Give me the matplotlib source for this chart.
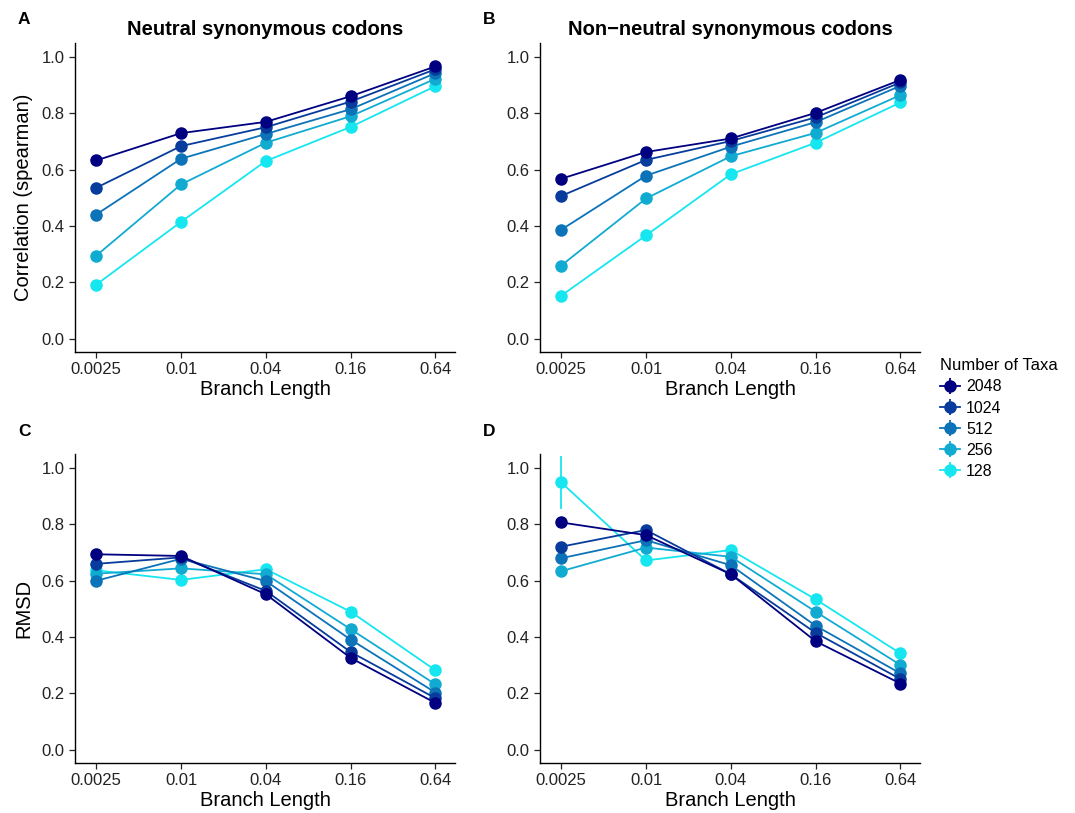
import numpy as np
import matplotlib
matplotlib.use('Agg')
import matplotlib.pyplot as plt

plt.rcParams['font.family'] = ['Liberation Sans', 'DejaVu Sans']

branch = [0.0025, 0.01, 0.04, 0.16, 0.64]
branch_labels = ['0.0025', '0.01', '0.04', '0.16', '0.64']
taxa = ['2048', '1024', '512', '256', '128']
colors = ['#000080', '#083c9c', '#0c73b8', '#11abd2', '#16e6ef']

# panel A: correlation, neutral
corr_neutral = [
    [0.633, 0.730, 0.770, 0.861, 0.967],
    [0.536, 0.684, 0.751, 0.842, 0.957],
    [0.441, 0.639, 0.727, 0.815, 0.943],
    [0.295, 0.548, 0.696, 0.790, 0.923],
    [0.192, 0.415, 0.631, 0.752, 0.897],
]
# panel B: correlation, non-neutral
corr_nonneutral = [
    [0.568, 0.663, 0.711, 0.802, 0.919],
    [0.507, 0.635, 0.702, 0.786, 0.910],
    [0.387, 0.579, 0.682, 0.769, 0.898],
    [0.260, 0.498, 0.648, 0.731, 0.865],
    [0.153, 0.367, 0.584, 0.696, 0.839],
]
# panel C: RMSD, neutral
rmsd_neutral = [
    [0.694, 0.688, 0.552, 0.326, 0.166],
    [0.660, 0.683, 0.564, 0.347, 0.183],
    [0.600, 0.678, 0.599, 0.391, 0.203],
    [0.625, 0.644, 0.623, 0.428, 0.232],
    [0.637, 0.603, 0.641, 0.490, 0.282],
]
# panel D: RMSD, non-neutral
rmsd_nonneutral = [
    [0.807, 0.762, 0.623, 0.385, 0.235],
    [0.721, 0.780, 0.623, 0.415, 0.251],
    [0.680, 0.744, 0.655, 0.440, 0.271],
    [0.634, 0.718, 0.685, 0.490, 0.301],
    [0.949, 0.672, 0.709, 0.534, 0.342],
]
# error bar half widths
err_small = [0.004, 0.004, 0.004, 0.004, 0.004]
err_d_128 = [0.093, 0.01, 0.006, 0.005, 0.005]
err_d_256 = [0.02, 0.008, 0.005, 0.005, 0.005]
err_d_512 = [0.02, 0.008, 0.005, 0.005, 0.005]

panels = [
    ('A', 'Neutral synonymous codons', corr_neutral, 'Correlation (spearman)',
     [err_small] * 5),
    ('B', 'Non\u2212neutral synonymous codons', corr_nonneutral, None,
     [err_small] * 5),
    ('C', None, rmsd_neutral, 'RMSD', [err_small] * 5),
    ('D', None, rmsd_nonneutral, None,
     [err_small, err_small, err_d_512, err_d_256, err_d_128]),
]

fig = plt.figure(figsize=(10.75, 8.13), dpi=100)
W, H = 1075, 813
boxes = [(75, 43, 380, 309), (540, 43, 380, 309),
         (75, 454, 380, 309), (540, 454, 380, 309)]

handles = []
for (letter, title, data, ylabel, errs), (x0, y0, w, h) in zip(panels, boxes):
    ax = fig.add_axes([x0 / W, 1 - (y0 + h) / H, w / W, h / H])
    ax.set_xscale('log')
    for i in range(len(taxa) - 1, -1, -1):
        eb = ax.errorbar(branch, data[i], yerr=errs[i], color=colors[i],
                         marker='o', markersize=8, lw=1.3, elinewidth=1.3,
                         capsize=0, label=taxa[i])
        if letter == 'A':
            handles.append(eb)
    ax.set_xlim(0.0025 * 4 ** -0.25, 0.64 * 4 ** 0.23)
    ax.set_ylim(-0.047, 1.05)
    ax.set_xticks(branch)
    ax.set_xticklabels(branch_labels)
    ax.xaxis.set_minor_locator(matplotlib.ticker.NullLocator())
    ax.set_yticks([0, 0.2, 0.4, 0.6, 0.8, 1.0])
    ax.set_yticklabels(['0.0', '0.2', '0.4', '0.6', '0.8', '1.0'])
    for s in ['top', 'right']:
        ax.spines[s].set_visible(False)
    for s in ['left', 'bottom']:
        ax.spines[s].set_linewidth(1.0)
    ax.tick_params(direction='out', length=4, width=0.9, labelsize=12,
                   colors='#222222', labelcolor='#222222')
    ax.set_xlabel('Branch Length', fontsize=14.5, labelpad=2)
    if ylabel:
        ax.set_ylabel(ylabel, fontsize=14.5, labelpad=6)
    if title:
        ax.set_title(title, fontsize=14.5, fontweight='bold', pad=6)
    fig.text((x0 - 57) / W, 1 - (y0 - 23) / H, letter, fontsize=12.5,
             fontweight='bold', va='center', ha='left')

handles = handles[::-1]
fig.legend(handles, taxa, title='Number of Taxa', loc='upper left',
           bbox_to_anchor=(934 / W, 1 - 352 / H), frameon=False,
           fontsize=11.5, title_fontsize=12, alignment='left',
           handlelength=1.2, handletextpad=0.4, labelspacing=0.38,
           borderaxespad=0)

fig.savefig('out.png', dpi=100)
